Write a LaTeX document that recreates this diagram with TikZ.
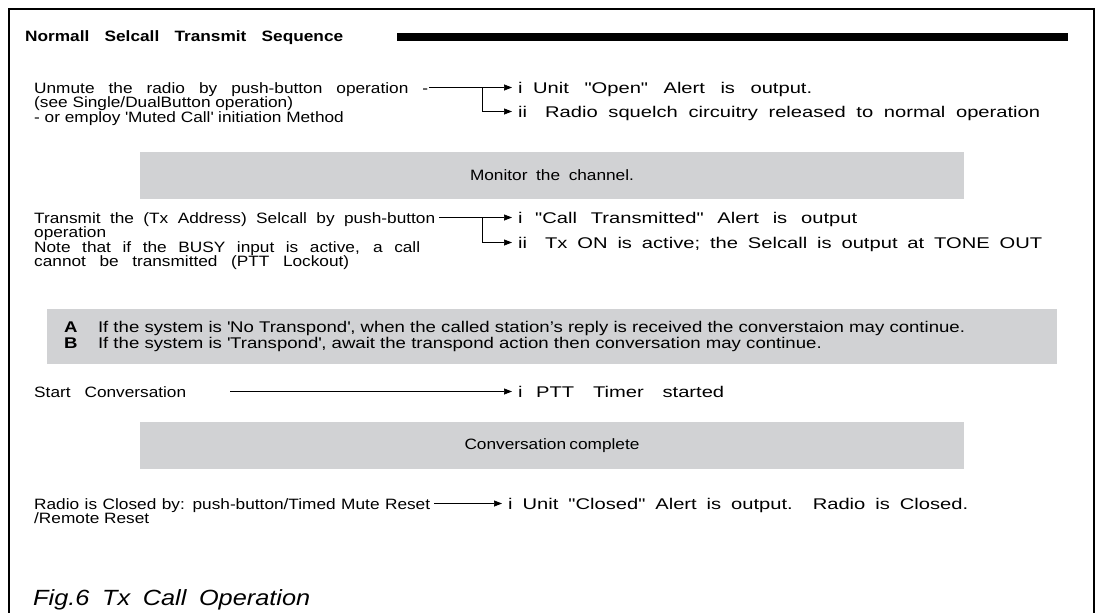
\documentclass[tikz,border=0pt]{standalone}
\usepackage{fontspec}
\setmainfont{Liberation Sans}[FakeStretch=1.15]
\newfontfamily\widefont{Liberation Sans}[FakeStretch=1.3,WordSpace=1.8]
\newfontfamily\boxfont{Liberation Sans}[FakeStretch=1.2]
\usetikzlibrary{positioning,arrows.meta}

\definecolor{bandgray}{RGB}{209,210,212}
\newcommand{\bodyfont}{\fontsize{15}{14.5}\selectfont}
\newcommand{\fitto}[2]{\makebox[#1][s]{#2}}
\newcommand{\numi}[1]{\makebox[#1][l]{i}}
\newcommand{\numii}{\makebox[27pt][l]{ii}}

\tikzset{
  txt/.style={inner sep=0pt, anchor=west, font=\bodyfont, text height=11pt, text depth=0pt},
  more/.style={inner sep=0pt, font=\bodyfont, align=left, anchor=base west},
  item/.style={inner xsep=6pt, inner ysep=0pt, anchor=west, font=\widefont\fontsize{15.5}{15}\selectfont, text height=11pt, text depth=0pt},
  band/.style={fill=bandgray, inner sep=0pt, font=\bodyfont},
  flow/.style={-{Triangle[length=8pt,width=6pt]}, line width=0.7pt},
}

\begin{document}
\begin{tikzpicture}[x=1pt,y=1pt]
\useasboundingbox (0,0) rectangle (1096,-613);

% frame and heading
\draw[line width=2.5pt] (9,-613) -- (9,-9) -- (1094,-9) -- (1094,-613);
\node[txt, font=\bfseries\fontsize{15}{16}\selectfont] (title) at (25,-36) {\fitto{318pt}{Normall Selcall Transmit Sequence}};
\node[fill=black, minimum width=671pt, minimum height=8pt, inner sep=0pt, anchor=west] (bar) at (397,-37) {};

% unmute (base of a multi-line node is its last line)
\node[txt] (unmute) at (34,-87.5) {\fitto{394pt}{Unmute the radio by push-button operation -}};
\node[more] (unmute2) at ([yshift=-29pt]unmute.base west)
  {(see Single/DualButton operation)\\
   - or employ \textquotesingle Muted Call\textquotesingle{} initiation Method};
\node[item] (open) at (512,-87.5) {\numi{15pt}\fitto{279pt}{Unit "Open" Alert is output.}};
\node[item] (squelch) at (512,-111.5) {\numii\fitto{495pt}{Radio squelch circuitry released to normal operation}};
\coordinate (fork1) at (482,-87.5);
\draw[flow, shorten <=1pt] (unmute.east) -- (open.west);
\draw[flow] (fork1) |- (squelch.west);

\node[band, minimum width=824pt, minimum height=47pt] (monitor) at (552,-175.5) {\fitto{164pt}{Monitor the channel.}};

% transmit
\node[txt] (transmit) at (34,-217.5) {\fitto{401pt}{Transmit the (Tx Address) Selcall by push-button}};
\node[more] (transmit2) at ([yshift=-43.5pt]transmit.base west)
  {operation\\
   \fitto{386pt}{Note that if the BUSY input is active, a call}\\
   \fitto{315pt}{cannot be transmitted (PTT Lockout)}};
\node[item] (alert) at (512,-217.5) {\numi{17pt}\fitto{322pt}{"Call Transmitted" Alert is output}};
\node[item] (txon) at (512,-242.5) {\numii\fitto{497pt}{Tx ON is active; the Selcall is output at TONE OUT}};
\coordinate (fork2) at (482,-217.5);
\draw[flow, shorten <=4pt] (transmit.east) -- (alert.west);
\draw[flow] (fork2) |- (txon.west);

\node[band, minimum width=1010pt, minimum height=55pt, text width=976pt, inner xsep=17pt, align=left,
      font=\boxfont\fontsize{15.5}{14}\selectfont] (cases) at (552,-336.5)
  {\makebox[34pt][l]{\textbf{A}}\fitto{945pt}{If the system is \textquotesingle No Transpond\textquotesingle, when the called station’s reply is received the converstaion may continue.}\\
   \makebox[34pt][l]{\textbf{B}}If the system is \textquotesingle Transpond\textquotesingle, await the transpond action then conversation may continue.};

% conversation
\node[txt] (start) at (34,-391.5) {\fitto{152pt}{Start Conversation}};
\node[item] (ptt) at (512,-391.5) {\numi{18pt}\fitto{188pt}{PTT Timer started}};
\coordinate (startgo) at (230,-391.5);
\draw[flow] (startgo) -- (ptt.west);

\node[band, minimum width=824pt, minimum height=47pt] (complete) at (552,-445.5) {\fitto{175pt}{Conversation complete}};

% close
\node[txt] (closed) at (34,-503.5) {\fitto{396pt}{Radio is Closed by: push-button/Timed Mute Reset}};
\node[more] (closed2) at ([yshift=-14.5pt]closed.base west) {/Remote Reset};
\node[item] (shut) at (502,-503.5) {\fitto{460pt}{i Unit "Closed" Alert is output.\ \ Radio is Closed.}};
\draw[flow, shorten <=4pt] (closed.east) -- (shut.west);

\node[txt, font=\itshape\fontsize{22}{24}\selectfont, text height=16pt] (caption) at (33,-597) {\fitto{277pt}{Fig.6 Tx Call Operation}};
\end{tikzpicture}
\end{document}
